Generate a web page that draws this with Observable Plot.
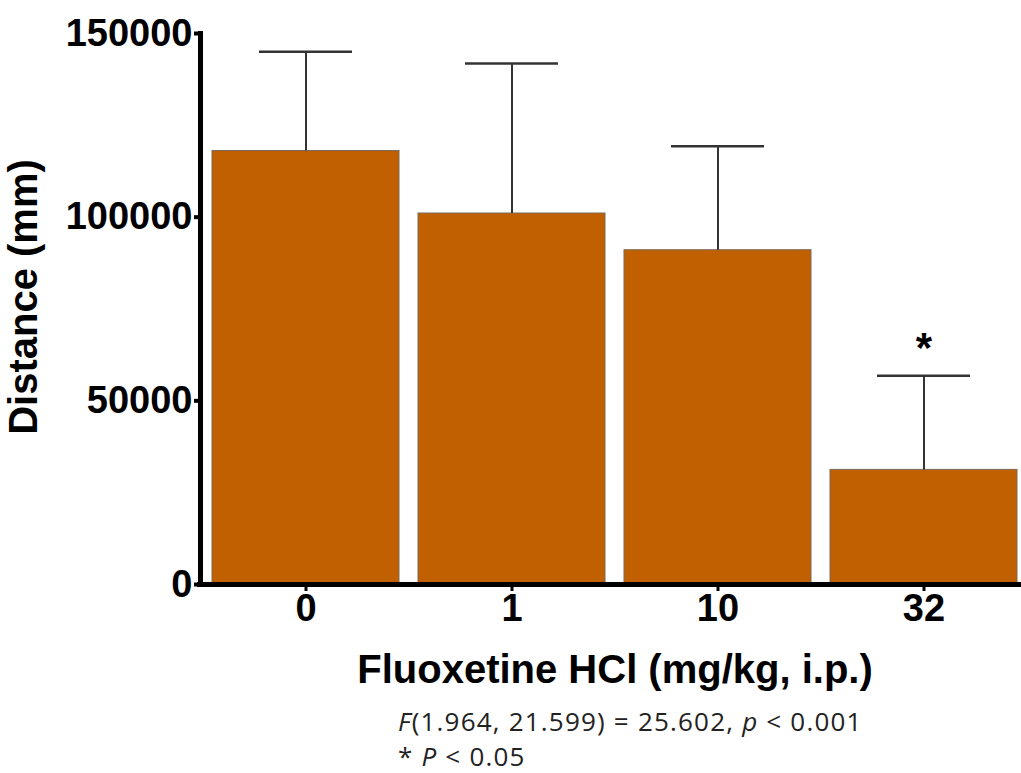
<!DOCTYPE html>
<html>
<head>
<meta charset="utf-8">
<script src="https://cdn.jsdelivr.net/npm/d3@7"></script>
<script src="https://cdn.jsdelivr.net/npm/@observablehq/plot@0.6"></script>
<style>
  html, body { margin: 0; padding: 0; background: #fff; overflow: hidden; }
  #chart svg { display: block; }
  .caption { font-family: "Open Sans", sans-serif; font-size: 26px; letter-spacing: 1.2px; color: #222; margin-left: 398px; line-height: 35px; }
</style>
</head>
<body>
<div id="chart"></div>
<div class="caption"><div><i>F</i>(1.964, 21.599) = 25.602, <i>p</i> &lt; 0.001</div><div>* <i>P</i> &lt; 0.05</div></div>
<script>
const doses = ["0", "1", "10", "32"];
const means = [118000, 101000, 91000, 31200];
const upper = [145000, 141800, 119300, 56800];
const stars = ["", "", "", "*"];
const yTicks = [0, 50000, 100000, 150000];

const data = doses.map((d, i) => ({dose: d, mean: means[i], upper: upper[i], star: stars[i]}));

const font = "'Liberation Sans', Arial, sans-serif";
const chart = Plot.plot({
  width: 1021,
  height: 704,
  marginLeft: 200,
  marginRight: -8,
  marginTop: 33,
  marginBottom: 120,
  style: {fontFamily: font, fontSize: "38px", fontWeight: "bold", color: "#000", background: "#fff", overflow: "hidden"},
  x: {domain: doses, paddingInner: 0.092, paddingOuter: 0.058, label: null},
  y: {domain: [0, 150000], label: null},
  marks: [
    Plot.barY(data, {x: "dose", y: "mean", fill: "#c06000", stroke: "#7a6a5a", strokeWidth: 1}),
    Plot.ruleX(data, {x: "dose", y1: "mean", y2: "upper", stroke: "#333", strokeWidth: 2}),
    Plot.tickY(data, {x: "dose", y: "upper", stroke: "#333", strokeWidth: 2.5, insetLeft: 47, insetRight: 47}),
    Plot.text(data, {x: "dose", y: "upper", text: "star", dy: -27, fontSize: 42, fontWeight: "bold", fill: "#000"}),
    Plot.axisY({ticks: yTicks, tickFormat: d => String(d), tickSize: 6, tickPadding: 2, strokeWidth: 4, fontSize: 38, fontWeight: "bold",
      label: "Distance (mm)", labelArrow: "none", labelAnchor: "center", labelOffset: 192}),
    Plot.axisX({tickSize: 7, tickPadding: 3, strokeWidth: 3, fontSize: 38, fontWeight: "bold",
      label: "Fluoxetine HCl (mg/kg, i.p.)", labelArrow: "none", labelAnchor: "center", labelOffset: 98}),
    Plot.frame({anchor: "left", stroke: "#000", strokeWidth: 5}),
    Plot.ruleY([0], {stroke: "#000", strokeWidth: 5, insetLeft: -3})
  ]
});
// enlarge the axis labels
chart.querySelectorAll("text").forEach(t => {
  if (t.textContent === "Fluoxetine HCl (mg/kg, i.p.)") t.setAttribute("font-size", 40);
  if (t.textContent === "Distance (mm)") { t.setAttribute("font-size", 40); t.setAttribute("dx", "12"); }
});
document.getElementById("chart").appendChild(chart);
</script>
</body>
</html>
